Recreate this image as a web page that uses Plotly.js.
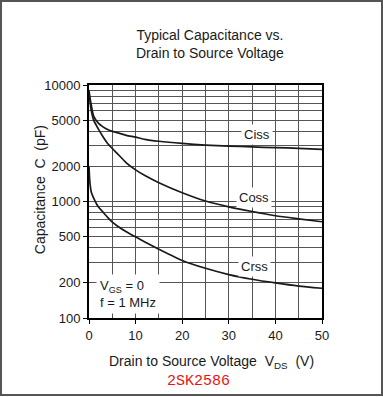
<!DOCTYPE html>
<html>
<head>
<meta charset="utf-8">
<script src="https://cdn.plot.ly/plotly-3.0.1.min.js"></script>
<style>
html,body{margin:0;padding:0;background:#fff;}
#wrap{position:relative;width:383px;height:397px;}
#chart{position:absolute;left:0;top:0;width:383px;height:397px;}
#frame{position:absolute;left:0;top:0;width:383px;height:396px;box-sizing:border-box;border:2px solid #555;pointer-events:none;}
</style>
</head>
<body>
<div id="wrap"><div id="chart"></div><div id="frame"></div></div>
<script>
// Drain-source voltage samples (V)
const vds  = [0, 0.2, 0.5, 1, 2, 3, 4, 5, 6, 8, 10, 12, 15, 20, 25, 30, 35, 40, 45, 50];
// Capacitances (pF)
const ciss = [9000, 7800, 6700, 5400, 4700, 4370, 4150, 4000, 3900, 3700, 3570, 3420, 3290, 3150, 3050, 2990, 2940, 2900, 2860, 2800];
const coss = [8800, 7300, 6000, 5000, 4200, 3600, 3150, 2850, 2600, 2150, 1870, 1670, 1450, 1190, 1010, 900, 820, 755, 710, 670];
const crss = [2000, 1450, 1200, 1070, 900, 810, 730, 665, 620, 550, 497, 450, 390, 312, 267, 236, 215, 200, 188, 180];

const seriesNames = ["Ciss", "Coss", "Crss"];
const labelV = [36.0, 35.4, 35.5];
const labelC = [3725, 1087, 279];

const xTicks = [0, 10, 20, 30, 40, 50];
const xMinor = [5, 15, 25, 35, 45];
const yTicks = [100, 200, 500, 1000, 2000, 5000, 10000];
const yTickText = ["100", "200", "500", "1000", "2000", "5000", "10000"];
const yMinor = [300, 400, 600, 700, 800, 900, 3000, 4000, 6000, 7000, 8000, 9000];

const FONT = "Liberation Sans, Arial, sans-serif";
const TXT = "#1a1a1a";
const GRID = "#555";

const lineStyle = {color: "#1a1a1a", width: 1.7, shape: "spline", smoothing: 0.6};
const traces = [ciss, coss, crss].map((ys, i) => ({
  x: vds, y: ys, type: "scatter", mode: "lines", name: seriesNames[i],
  line: lineStyle, hoverinfo: "skip"
}));

const annotations = seriesNames.map((n, i) => ({
  x: labelV[i], y: Math.log10(labelC[i]), xref: "x", yref: "y",
  xanchor: "center", yanchor: "middle",
  text: n, showarrow: false, bgcolor: "#fff", borderpad: 2,
  font: {family: FONT, size: 13, color: TXT}
}));
annotations.push({
  x: 1.5, y: Math.log10(160), xref: "x", yref: "y", xanchor: "left", yanchor: "middle",
  text: "V<sub>GS</sub> = 0<br>f = 1 MHz", align: "left", showarrow: false,
  bgcolor: "#fff", borderpad: 3, font: {family: FONT, size: 13, color: TXT}
});
annotations.push({
  x: 0.519, y: 1.178, xref: "paper", yref: "paper", xanchor: "center", yanchor: "middle",
  showarrow: false,
  text: "Typical Capacitance vs.<br>Drain to Source Voltage",
  font: {family: FONT, size: 14, color: TXT}
});
annotations.push({
  x: -0.21, y: 0.549, xref: "paper", yref: "paper", xanchor: "center", yanchor: "middle",
  showarrow: false, textangle: -90,
  text: "Capacitance  C  (pF)", font: {family: FONT, size: 14, color: TXT}
});
annotations.push({
  x: 0.527, y: -0.1876, xref: "paper", yref: "paper", xanchor: "center", yanchor: "middle",
  showarrow: false,
  text: "Drain to Source Voltage  V<sub>DS</sub>  (V)", font: {family: FONT, size: 14, color: TXT}
});
annotations.push({
  x: 0.468, y: -0.273, xref: "paper", yref: "paper", xanchor: "center", yanchor: "middle",
  showarrow: false,
  text: "2SK2586", font: {family: "Liberation Mono, Courier New, monospace", size: 15, color: "#ee1111"}
});

const layout = {
  width: 383, height: 397,
  margin: {l: 89, r: 61, t: 85, b: 79, pad: 0},
  paper_bgcolor: "#fff", plot_bgcolor: "#fff",
  showlegend: false,
  xaxis: {
    range: [0, 50], tickmode: "array", tickvals: xTicks,
    ticks: "outside", ticklen: 4, tickcolor: "#000", tickwidth: 1,
    showgrid: true, gridcolor: GRID, gridwidth: 1,
    minor: {tickmode: "array", tickvals: xMinor, showgrid: true, gridcolor: GRID, gridwidth: 1, ticks: ""},
    showline: true, linecolor: "#000", linewidth: 2, mirror: true,
    zeroline: false, tickfont: {family: FONT, size: 13, color: TXT}
  },
  yaxis: {
    type: "log", range: [2, 4], tickmode: "array", tickvals: yTicks, ticktext: yTickText,
    ticks: "outside", ticklen: 4, tickcolor: "#000", tickwidth: 1,
    showgrid: true, gridcolor: GRID, gridwidth: 1,
    minor: {tickmode: "array", tickvals: yMinor, showgrid: true, gridcolor: GRID, gridwidth: 1, ticks: ""},
    showline: true, linecolor: "#000", linewidth: 2, mirror: true,
    zeroline: false, tickfont: {family: FONT, size: 13, color: TXT}
  },
  annotations: annotations
};

Plotly.newPlot("chart", traces, layout, {staticPlot: true, displayModeBar: false});
</script>
</body>
</html>
